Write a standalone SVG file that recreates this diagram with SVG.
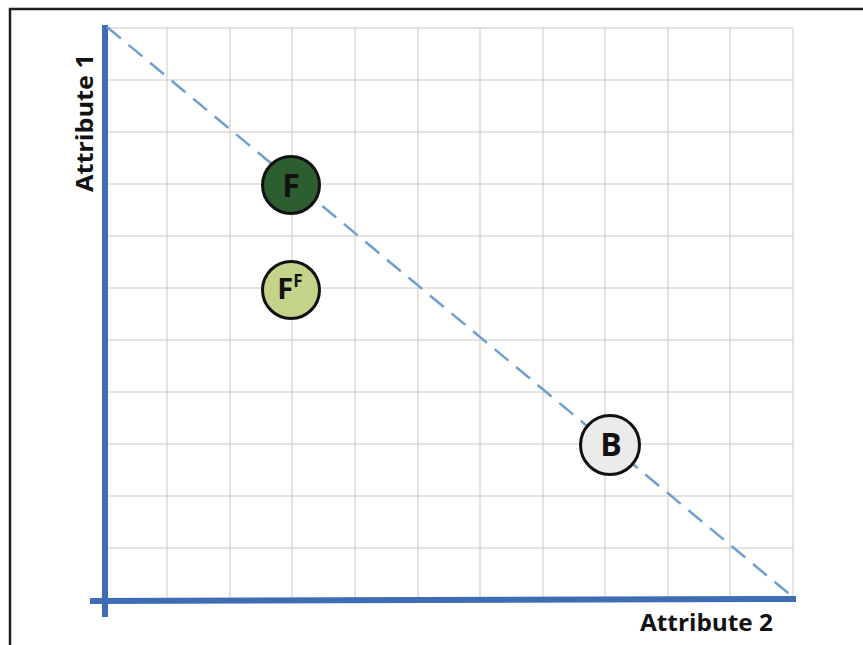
<svg xmlns="http://www.w3.org/2000/svg" width="863" height="645" viewBox="0 0 863 645">
  <style>
    .grid { stroke: #cbc8c2; stroke-width: 1; fill: none; }
    .axis { stroke: #3e6db5; stroke-width: 6; fill: none; }
    .diag { stroke: #6e9fd2; stroke-width: 2.5; stroke-dasharray: 18 10; fill: none; }
    .node { stroke: #111; stroke-width: 3; }
    .lbl { font-family: "Open Sans", "Liberation Sans", sans-serif; font-weight: bold; fill: #111; }
    .axlbl { font-family: "Open Sans", "Liberation Sans", sans-serif; font-weight: bold; fill: #111; font-size: 24px; }
  </style>
  <rect x="0" y="0" width="863" height="645" fill="#ffffff"/>
  <g id="frame">
    <path d="M10 645 V9 H863" fill="none" stroke="#1e1e1e" stroke-width="2.5"/>
  </g>
  <g id="grid" class="grid">
    <path d="M105 28 H793 M105 80 H793 M105 132 H793 M105 184 H793 M105 236 H793 M105 288 H793 M105 340 H793 M105 392 H793 M105 444 H793 M105 496 H793 M105 548 H793"/>
    <path d="M167 28 V600 M230 28 V600 M292 28 V600 M355 28 V600 M418 28 V600 M480 28 V600 M543 28 V600 M605 28 V600 M668 28 V600 M730 28 V600 M793 28 V600"/>
  </g>
  <g id="connectors">
    <line class="axis" x1="105" y1="25" x2="105" y2="617"/>
    <line class="axis" x1="90" y1="601" x2="796" y2="599"/>
    <line class="diag" x1="107" y1="27" x2="794" y2="598"/>
  </g>
  <g id="node-F">
    <circle class="node" cx="291" cy="185" r="28.5" fill="#2c5e30"/>
    <text class="lbl" x="291" y="197" font-size="32" text-anchor="middle">F</text>
  </g>
  <g id="node-FF">
    <circle class="node" cx="291" cy="290" r="28.5" fill="#c3d48a"/>
    <text class="lbl" x="290" y="299" font-size="29" text-anchor="middle">F<tspan font-size="17" dy="-12">F</tspan></text>
  </g>
  <g id="node-B">
    <circle class="node" cx="610" cy="445" r="29.5" fill="#ebebeb"/>
    <text class="lbl" x="611" y="456" font-size="32" text-anchor="middle">B</text>
  </g>
  <g id="labels">
    <text class="axlbl" x="0" y="0" transform="translate(93,192) rotate(-90)" textLength="138" lengthAdjust="spacingAndGlyphs">Attribute 1</text>
    <text class="axlbl" x="640" y="631" textLength="133" lengthAdjust="spacingAndGlyphs">Attribute 2</text>
  </g>
</svg>
